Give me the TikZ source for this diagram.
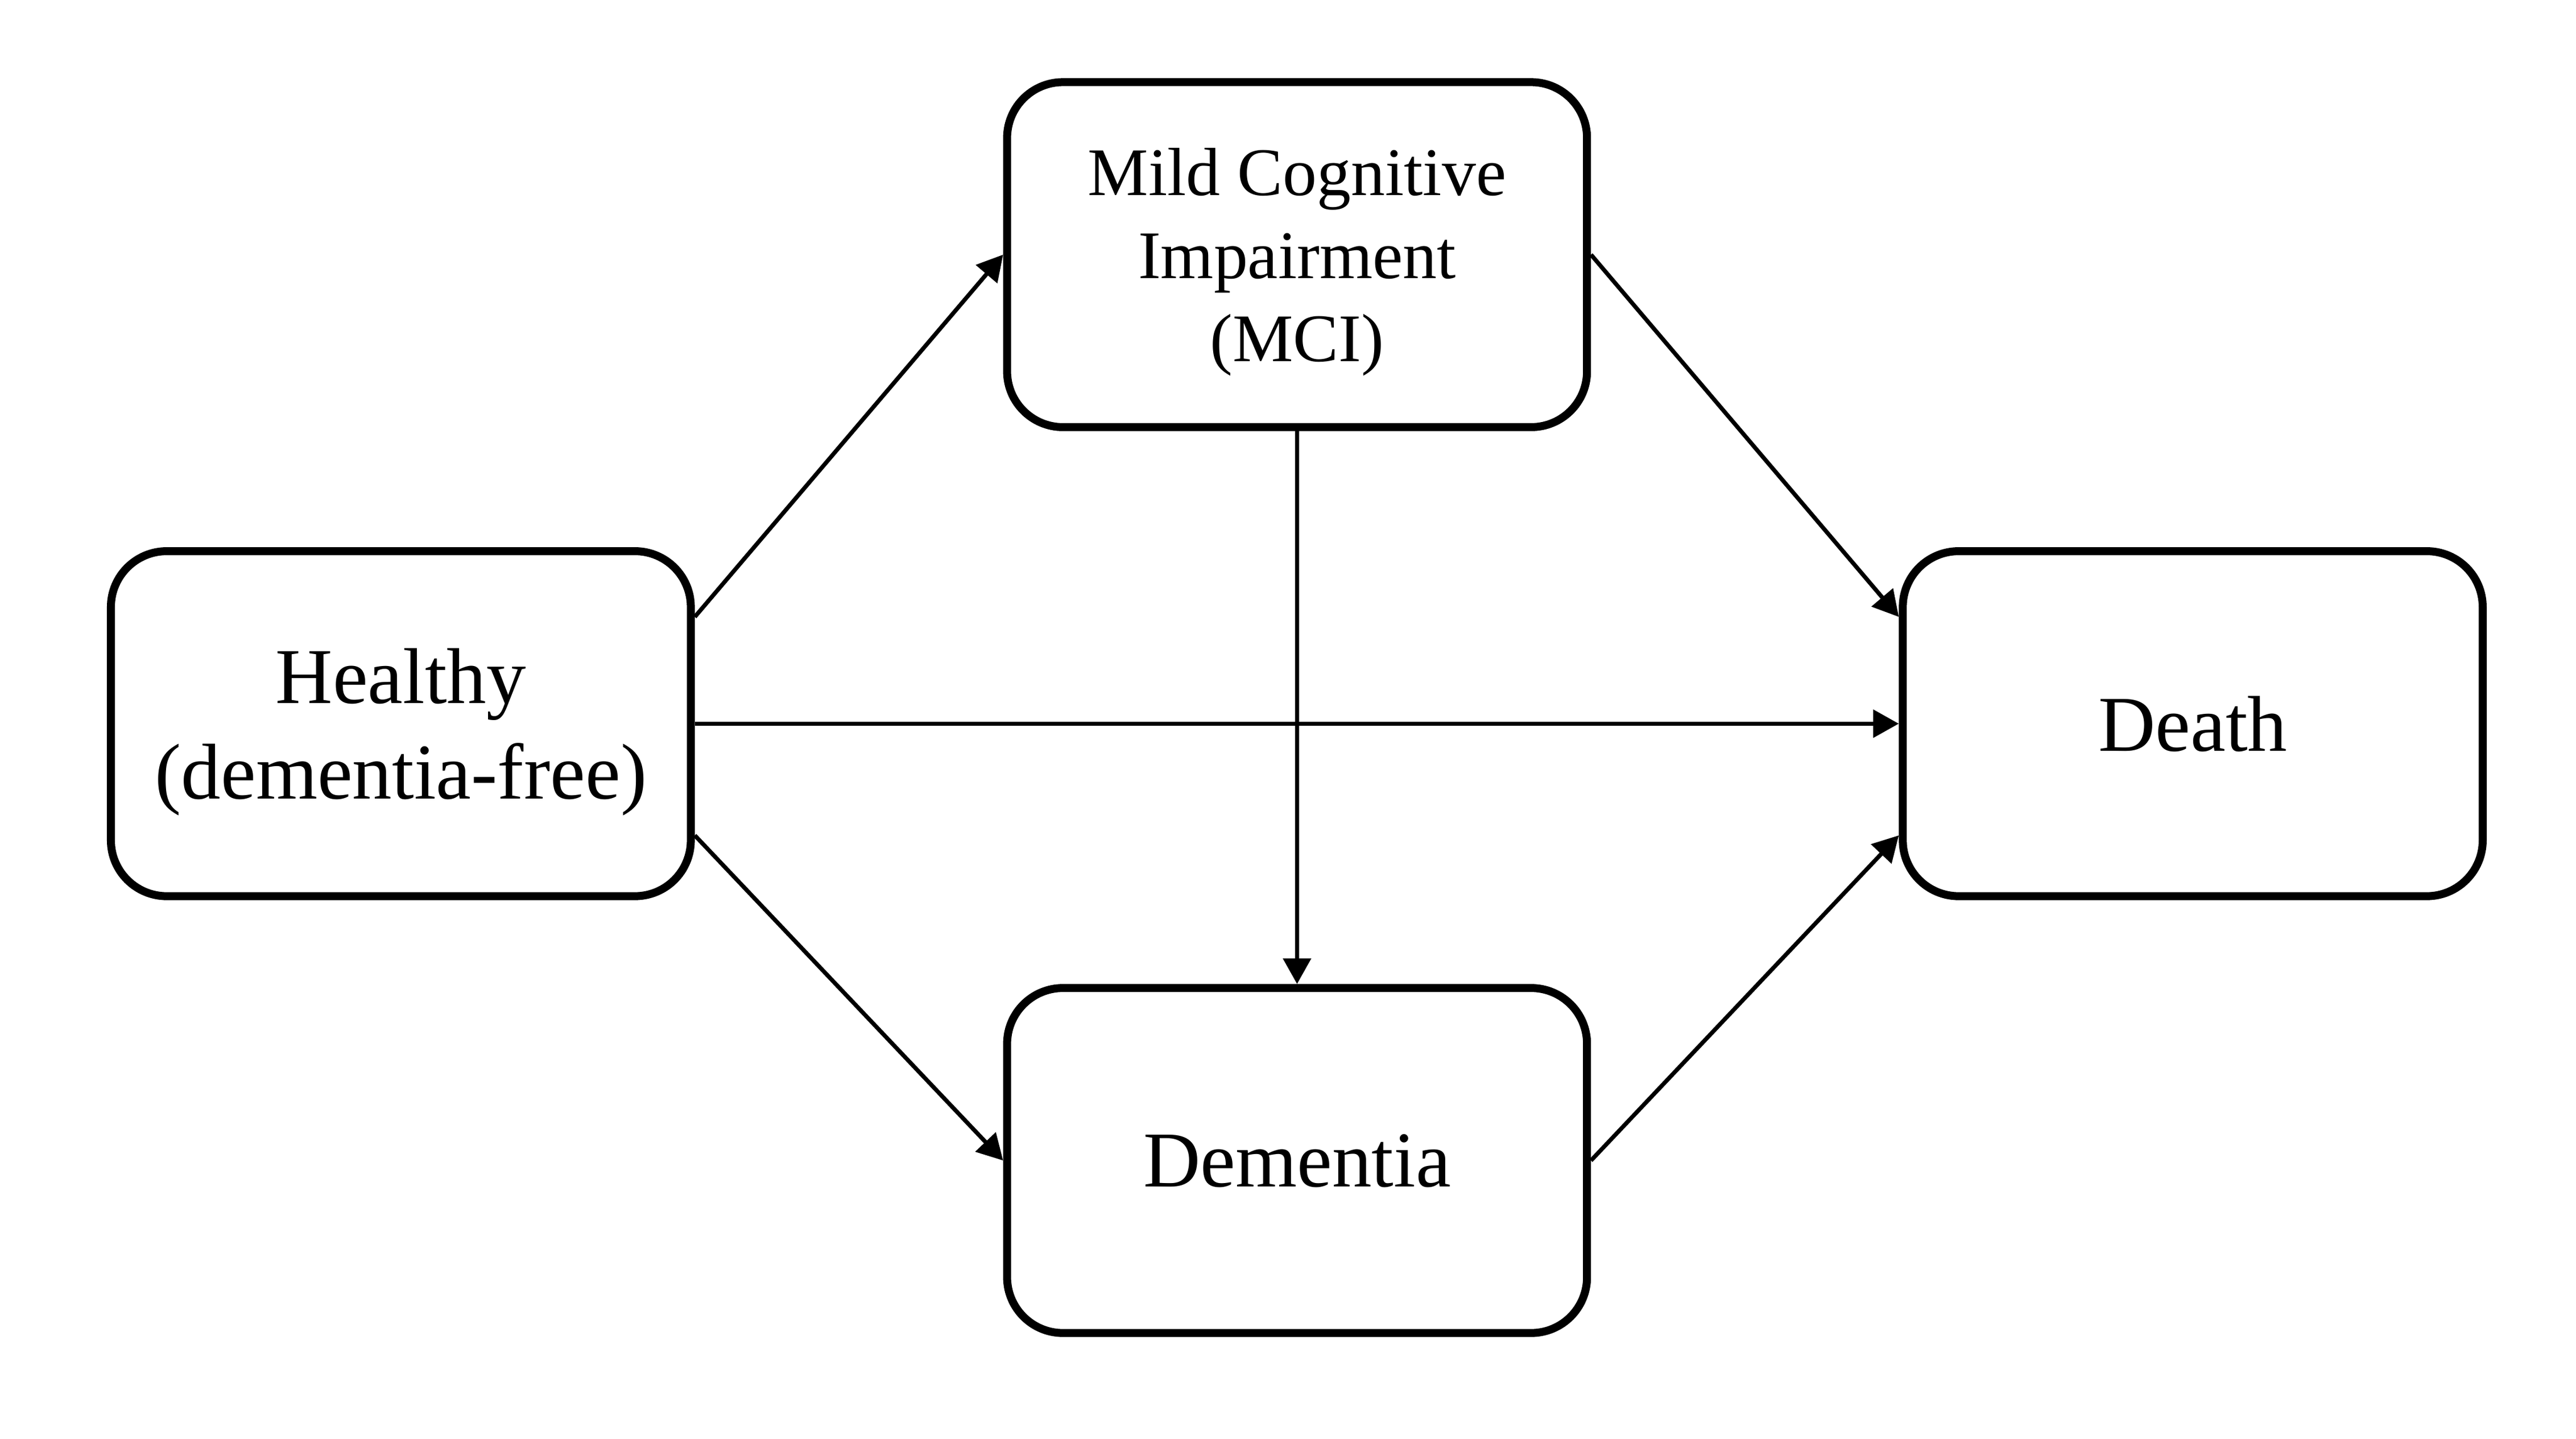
\documentclass[tikz,border=0pt]{standalone}
\usepackage{fontspec}
\setmainfont{Liberation Serif}
\usetikzlibrary{arrows.meta}

\begin{document}
\begin{tikzpicture}
\tikzstyle{state} = [rectangle, rounded corners=3.4mm, draw=black, line width=1.38pt, minimum width=3.53cm, minimum height=2.10cm, align=center, text depth=0pt, font=\fontsize{13.7}{16.5}\selectfont]
\tikzstyle{small} = [font=\fontsize{11.8}{14.4}\selectfont]
\tikzstyle{edge} = [draw=black, line width=0.72pt, -{Triangle[width=1.67mm, length=1.56mm]}]

\useasboundingbox (0,0) rectangle (15.68,-8.756);

\node[state] (healthy) at (2.44,-4.405) {Healthy\\(dementia-free)};
\node[state, small] (mci) at (7.895,-1.55) {Mild Cognitive\\Impairment\\(MCI)};
\node[state] (dementia) at (7.895,-7.064) {Dementia};
\node[state] (death) at (13.347,-4.405) {Death};

\draw[edge] ([yshift=6.5mm]healthy.east) -- (mci.west);
\draw[edge] (healthy.east) -- (death.west);
\draw[edge] ([yshift=-6.8mm]healthy.east) -- (dementia.west);
\draw[edge] (mci.south) -- (dementia.north);
\draw[edge] (mci.east) -- ([yshift=6.5mm]death.west);
\draw[edge] (dementia.east) -- ([yshift=-6.8mm]death.west);
\end{tikzpicture}
\end{document}
